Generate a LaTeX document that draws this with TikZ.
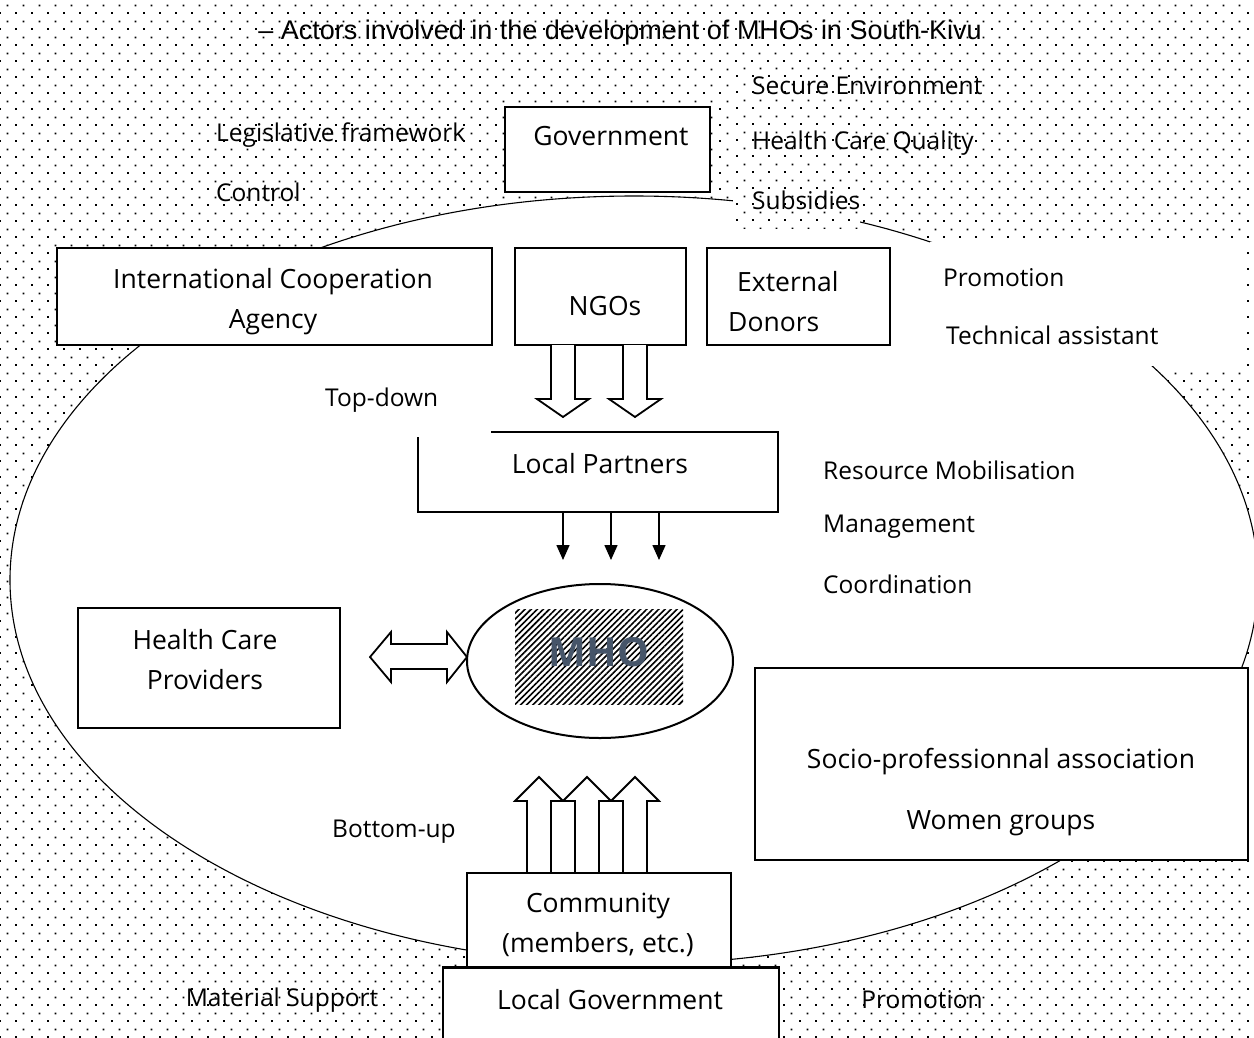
\documentclass[tikz,border=0pt]{standalone}
\usepackage{fontspec}
\setmainfont{Open Sans}
\newfontfamily\titlefont{Liberation Sans}
\usetikzlibrary{patterns.meta,arrows.meta,shapes.geometric}
\tikzdeclarepattern{
  name=bgdots,
  type=uncolored,
  bounding box={(0pt,0pt) and (16pt,16pt)},
  tile size={(16pt,16pt)},
  code={
    \pgfpathrectangle{\pgfpoint{0pt}{0pt}}{\pgfpoint{2pt}{2pt}}
    \pgfpathrectangle{\pgfpoint{8pt}{8pt}}{\pgfpoint{2pt}{2pt}}
    \pgfusepath{fill}
  }
}
\definecolor{mhoblue}{RGB}{70,85,105}
\begin{document}
\begin{tikzpicture}[x=1pt,y=-1pt,
  box/.style={draw, line width=2pt, fill=white, inner sep=0pt},
  lbl/.style={inner sep=0pt, align=center, font=\fontsize{26.5}{40}\selectfont},
  lblw/.style={inner sep=0pt, anchor=west, font=\fontsize{26.5}{40}\selectfont},
  small/.style={inner sep=0pt, anchor=west, font=\fontsize{24.5}{28}\selectfont},
  dlbl/.style={inner sep=0pt, anchor=west, font=\fontsize{24.5}{28}\selectfont},
  hollow/.style={draw, line width=1.8pt, fill=white, line join=miter},
  thin arrow/.style={line width=1.5pt, -{Triangle[width=13pt,length=15pt]}},
  dotsbg/.style={pattern=bgdots, pattern color=black}
]
\useasboundingbox (0,0) rectangle (1254,1037);
\fill[dotsbg] (0,0) rectangle (1254,1037);
% big ellipse
\draw[fill=white, line width=1.1pt] (634,580) ellipse [x radius=624pt, y radius=384pt];
% text frames
\fill[white] (733,62) rectangle (860,228);
\fill[dotsbg] (733,62) rectangle (860,228);
\fill[white] (930,242) rectangle (1246,366);

% title
\node[inner sep=0pt, font=\titlefont\fontsize{27}{30}\selectfont] (title) at (620,33) {– Actors involved in the development of MHOs in South-Kivu};

% Government
\node[box, minimum width=205pt, minimum height=85pt] (gov) at (607.5,149.5) {};
\node[lbl] (govt) at (611,136) {Government};
\node[dlbl] (leg) at (216,135) {Legislative framework};
\node[dlbl] (ctrl) at (216,192) {Control};
\node[dlbl] (sec) at (752,86) {Secure Environment};
\node[dlbl] (hcq) at (752,143) {Health Care Quality};
\node[dlbl] (sub) at (752,200) {Subsidies};

% top row
\node[box, minimum width=435pt, minimum height=97pt] (ica) at (274.5,296.5) {};
\node[lbl] (icat) at (273,302) {International Cooperation\\Agency};
\node[box, minimum width=171pt, minimum height=97pt] (ngo) at (600.5,296.5) {};
\node[lbl] (ngot) at (605,306) {NGOs};
\node[box, minimum width=183pt, minimum height=97pt] (ext) at (798.5,296.5) {};
\node[lblw] (ext1) at (737,282) {External};
\node[lblw] (ext2) at (728,322) {Donors};
\node[small] (prom1) at (943,278) {Promotion};
\node[small] (tech) at (946,335) {Technical assistant};

% NGO hollow arrows
\draw[hollow] (551,345) -- (551,399) -- (537,399) -- (563,417) -- (589,399) -- (575,399) -- (575,345);
\draw[hollow] (623,345) -- (623,399) -- (609,399) -- (635,417) -- (661,399) -- (647,399) -- (647,345);

\node[small] (td) at (325,400) {Top-down};

% Local partners
\node[box, minimum width=360pt, minimum height=80pt] (lp) at (598,472) {};
\fill[white] (405,425) rectangle (491,437);
\node[lbl] (lpt) at (600,464) {Local Partners};
\coordinate (a1) at (563,560);
\coordinate (a2) at (611,560);
\coordinate (a3) at (659,560);
\draw[thin arrow] (lp.south -| a1) -- (a1);
\draw[thin arrow] (lp.south -| a2) -- (a2);
\draw[thin arrow] (lp.south -| a3) -- (a3);
\node[small] (res) at (823,470) {Resource Mobilisation};
\node[small] (man) at (823,527) {Management};
\begin{scope}
\clip (800,560) rectangle (1000,593);
\node[small] (coo) at (823,584) {Coordination};
\end{scope}

% MHO
\node[draw, ellipse, line width=2pt, fill=white, minimum width=266pt, minimum height=154pt, inner sep=0pt] (mho) at (600,661) {};
\fill[pattern={Lines[angle=45,distance=4.3pt,line width=1.6pt]}, pattern color=black] (515,609) rectangle (683,704);
\node[inner sep=0pt, text=mhoblue, font=\bfseries\fontsize{40}{44}\selectfont] (mhot) at (599,652) {MHO};

% Health care providers
\node[box, minimum width=262pt, minimum height=120pt] (hcp) at (209,668) {};
\node[lbl] (hcpt) at (205,660) {Health Care\\Providers};
\draw[hollow] (370,657) -- (391,632) -- (391,644) -- (447,644) -- (447,632) -- (467,657) -- (447,682) -- (447,669) -- (391,669) -- (391,682) -- cycle;

% Socio
\node[box, minimum width=493pt, minimum height=192pt] (soc) at (1001.5,764) {};
\node[lbl] (soc1) at (1001,762) {Socio-professionnal association};
\node[lbl] (soc2) at (1001,823) {Women groups};

% bottom-up arrows
\draw[hollow] (527,873) -- (527,801) -- (515,801) -- (539,777) -- (563,801) -- (551,801) -- (551,873);
\draw[hollow] (575,873) -- (575,801) -- (563,801) -- (587,777) -- (611,801) -- (599,801) -- (599,873);
\draw[hollow] (623,873) -- (623,801) -- (611,801) -- (635,777) -- (659,801) -- (647,801) -- (647,873);
\node[small] (bu) at (332,832) {Bottom-up};

% Community and local government
\node[box, minimum width=264pt, minimum height=95pt] (com) at (599,920.5) {};
\node[lbl] (comt) at (598,925) {Community\\(members, etc.)};
\node[box, minimum width=336pt, minimum height=80pt] (lg) at (611,1008) {};
\draw[line width=3pt] (lg.north west) -- (lg.north east);
\node[lbl] (lgt) at (610,1000) {Local Government};
\node[dlbl, anchor=center] (mat) at (282,1000) {Material Support};
\node[dlbl, anchor=center] (prom2) at (922,1000) {Promotion};
\end{tikzpicture}
\end{document}
